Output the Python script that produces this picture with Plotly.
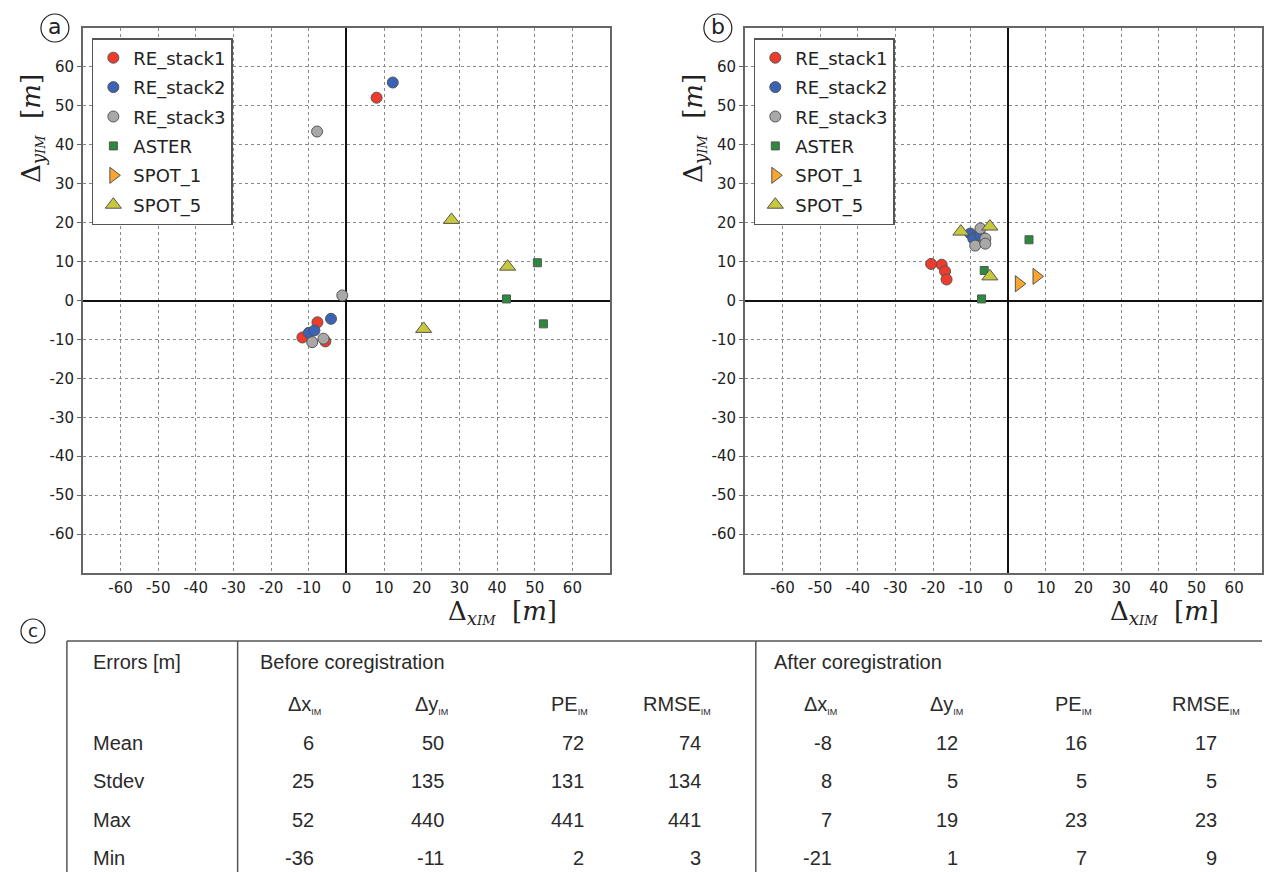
import plotly.graph_objects as go

W, H = 1264, 872

# ---------------- data: panel (a) before coregistration ----------------
a_re1_x = [8.0, -11.7, -7.7, -5.6]
a_re1_y = [52.1, -9.5, -5.6, -10.5]
a_re2_x = [12.3, -4.1, -10.0, -8.5]
a_re2_y = [56.0, -4.7, -8.3, -7.7]
a_re3_x = [-7.8, -1.1, -9.1, -6.1]
a_re3_y = [43.4, 1.3, -10.7, -9.8]
a_aster_x = [50.7, 42.5, 52.3]
a_aster_y = [9.7, 0.4, -6.0]
a_spot1_x = []
a_spot1_y = []
a_spot5_x = [27.9, 42.8, 20.5]
a_spot5_y = [20.7, 8.7, -7.3]

# ---------------- data: panel (b) after coregistration ----------------
b_re1_x = [-20.5, -17.7, -16.8, -16.4]
b_re1_y = [9.4, 9.2, 7.5, 5.4]
b_re2_x = [-10.1, -8.5, -9.3, -7.4]
b_re2_y = [17.2, 16.4, 15.9, 16.7]
b_re3_x = [-7.4, -6.1, -8.8, -6.1]
b_re3_y = [18.5, 15.9, 14.1, 14.6]
b_aster_x = [5.5, -6.4, -7.1]
b_aster_y = [15.6, 7.7, 0.4]
b_spot1_x = [2.8, 7.5]
b_spot1_y = [4.3, 6.2]
b_spot5_x = [-12.6, -4.9, -4.9]
b_spot5_y = [17.7, 19.0, 6.2]

tick_vals = [-60, -50, -40, -30, -20, -10, 0, 10, 20, 30, 40, 50, 60]
tick_text = [str(v) for v in tick_vals]

# ---------------- data: table (c) ----------------
row_labels = ["Mean", "Stdev", "Max", "Min"]
col_headers = ["Δx", "Δy", "PE", "RMSE"]
before_dx = [6, 25, 52, -36]
before_dy = [50, 135, 440, -11]
before_pe = [72, 131, 441, 2]
before_rmse = [74, 134, 441, 3]
after_dx = [-8, 8, 7, -21]
after_dy = [12, 5, 19, 1]
after_pe = [16, 5, 23, 7]
after_rmse = [17, 5, 23, 9]

series_names = ["RE_stack1", "RE_stack2", "RE_stack3", "ASTER", "SPOT_1", "SPOT_5"]
colors = ["#ee3b2b", "#3b63b5", "#a8a8a8", "#2b8a3b", "#f9a52f", "#c8c83c"]
symbols = ["circle", "circle", "circle", "square", "triangle-right", "triangle-up"]
sizes = [11, 11, 11, 8, 14, 14]

fig = go.Figure()

def px_x(p):
    return p / W

def px_y(p):
    return 1 - p / H

panel_a = [(a_re1_x, a_re1_y), (a_re2_x, a_re2_y), (a_re3_x, a_re3_y),
           (a_aster_x, a_aster_y), (a_spot1_x, a_spot1_y), (a_spot5_x, a_spot5_y)]
panel_b = [(b_re1_x, b_re1_y), (b_re2_x, b_re2_y), (b_re3_x, b_re3_y),
           (b_aster_x, b_aster_y), (b_spot1_x, b_spot1_y), (b_spot5_x, b_spot5_y)]

for i, (xs, ys) in enumerate(panel_a):
    fig.add_trace(go.Scatter(
        x=xs if xs else [None], y=ys if ys else [None], mode="markers", name=series_names[i],
        legendgroup="a%d" % i, legend="legend",
        marker=dict(color=colors[i], symbol=symbols[i], size=sizes[i],
                    line=dict(color="#555555", width=1)),
        xaxis="x", yaxis="y"))

for i, (xs, ys) in enumerate(panel_b):
    fig.add_trace(go.Scatter(
        x=xs, y=ys, mode="markers", name=series_names[i],
        legendgroup="b%d" % i, legend="legend2",
        marker=dict(color=colors[i], symbol=symbols[i], size=sizes[i],
                    line=dict(color="#555555", width=1)),
        xaxis="x2", yaxis="y2"))

tick_font = dict(family="DejaVu Sans", size=15, color="#222222")
frame = dict(showline=True, linecolor="#666666", linewidth=1.5, mirror=True,
             showgrid=True, gridcolor="#8a8a8a", gridwidth=1, griddash="dot",
             zeroline=True, zerolinecolor="#111111", zerolinewidth=1.5,
             tickvals=tick_vals, ticktext=tick_text, tickfont=tick_font)

legend_style = dict(xanchor="left", yanchor="top", bgcolor="white",
                    bordercolor="#555555", borderwidth=1.5,
                    font=dict(family="DejaVu Sans", size=18, color="#222222"),
                    tracegroupgap=3, itemwidth=30)

ydom = [px_y(573), px_y(28)]
fig.update_layout(
    width=W, height=H, margin=dict(l=0, r=0, t=0, b=0),
    paper_bgcolor="white", plot_bgcolor="white", autosize=False,
    xaxis=dict(domain=[px_x(83), px_x(611)], range=[-70, 70], anchor="y",
               ticks="", **frame),
    yaxis=dict(domain=ydom, range=[-70, 70], anchor="x",
               ticks="outside", ticklen=4, tickcolor="#666666", **frame),
    xaxis2=dict(domain=[px_x(746), 1.0], range=[-70, 67.4], anchor="y2",
                ticks="", **frame),
    yaxis2=dict(domain=ydom, range=[-70, 70], anchor="x2",
                ticks="outside", ticklen=4, tickcolor="#666666", **frame),
    legend=dict(x=px_x(92), y=px_y(38), **legend_style),
    legend2=dict(x=px_x(755), y=px_y(38), **legend_style),
    showlegend=True,
)

shapes = []
annotations = []

# panel letters in circles
for letter, cx, cy, r in [("a", 55, 28, 14), ("b", 719, 28, 14), ("c", 33, 631, 12)]:
    shapes.append(dict(type="circle", xref="paper", yref="paper",
                       x0=px_x(cx - r), x1=px_x(cx + r), y0=px_y(cy + r), y1=px_y(cy - r),
                       line=dict(color="#222222", width=1.2)))
    annotations.append(dict(text=letter, xref="paper", yref="paper", x=px_x(cx), y=px_y(cy - 1),
                            showarrow=False, xanchor="center", yanchor="middle",
                            font=dict(family="DejaVu Sans", size=22 if r > 12 else 18, color="#222222")))

serif = dict(family="DejaVu Serif", size=26, color="#222222")
xtitle = "Δ<sub><i>x</i><span style='font-size:13px'><i>IM</i></span></sub>  [<i>m</i>]"
ytitle = "Δ<sub><i>y</i><span style='font-size:13px'><i>IM</i></span></sub>  [<i>m</i>]"
for (x, y) in [(503, 612), (1166, 612)]:
    annotations.append(dict(text=xtitle, xref="paper", yref="paper", x=px_x(x), y=px_y(y),
                            showarrow=False, xanchor="center", yanchor="middle", font=serif))
for (x, y) in [(32, 128), (695, 128)]:
    annotations.append(dict(text=ytitle, xref="paper", yref="paper", x=px_x(x), y=px_y(y),
                            showarrow=False, xanchor="center", yanchor="middle", font=serif,
                            textangle=-90))

# ---------------- table (c) ----------------
line_style = dict(color="#555555", width=1.5)
shapes.append(dict(type="line", xref="paper", yref="paper", x0=px_x(67), x1=1.0,
                   y0=px_y(641), y1=px_y(641), line=line_style))
for xv in [67, 238, 757]:
    shapes.append(dict(type="line", xref="paper", yref="paper", x0=px_x(xv), x1=px_x(xv),
                       y0=0, y1=px_y(641), line=line_style))

tfont = dict(family="Liberation Sans", size=20, color="#2a2a2a")

def txt(s, x, y, anchor="left"):
    annotations.append(dict(text=s, xref="paper", yref="paper", x=px_x(x), y=px_y(y),
                            showarrow=False, xanchor=anchor, yanchor="middle", font=tfont))

txt("Errors [m]", 91, 662)
txt("Before coregistration", 258, 662)
txt("After coregistration", 773, 662)

sub = "<sub><span style='font-size:9px'>IM</span></sub>"
head_x = [305, 432, 570, 678, 822, 948, 1075, 1208]
for j, xh in enumerate(head_x):
    txt(col_headers[j % 4] + sub, xh, 705, "center")

row_y = [743, 781, 820, 858]
for i, lab in enumerate(row_labels):
    txt(lab, 91, row_y[i])

cols = [before_dx, before_dy, before_pe, before_rmse, after_dx, after_dy, after_pe, after_rmse]
col_right = [316, 447, 587, 704, 835, 962, 1091, 1221]
for j, col in enumerate(cols):
    for i, v in enumerate(col):
        txt(str(v), col_right[j], row_y[i], "right")

fig.update_layout(shapes=shapes, annotations=annotations)

fig.write_html("out.html", config={"displayModeBar": False},
               post_script="document.body.style.margin='0';document.body.style.overflow='hidden';")
